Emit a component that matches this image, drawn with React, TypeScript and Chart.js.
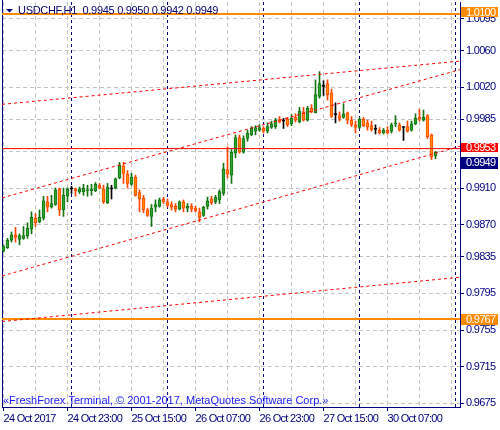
import { useEffect, useRef } from "react";
import { Chart, registerables } from "chart.js";

Chart.register(...registerables);

const TITLE = "USDCHF,H1";

const OPEN = [
  0.9841, 0.9845, 0.9853, 0.9859, 0.9854, 0.9855, 0.9858, 0.9865, 0.9877, 0.9873,
  0.9877, 0.9895, 0.9889, 0.9892, 0.9909, 0.9886, 0.9901, 0.9909, 0.9909, 0.9906,
  0.9906, 0.9907, 0.9907, 0.9907, 0.9913, 0.9909, 0.9894, 0.9909, 0.991, 0.9921,
  0.9934, 0.9925, 0.9914, 0.9922, 0.9905, 0.9899, 0.9886, 0.9879, 0.9889, 0.989,
  0.9898, 0.9895, 0.9892, 0.989, 0.9887, 0.9895, 0.9888, 0.989, 0.9888, 0.9884,
  0.988, 0.989, 0.9898, 0.9895, 0.9897, 0.9904, 0.993, 0.9924, 0.9948, 0.9965,
  0.9949, 0.9964, 0.9968, 0.9972, 0.9973, 0.9975, 0.9972, 0.9976, 0.9977, 0.9984,
  0.9983, 0.9985, 0.998, 0.9987, 0.9982, 0.9993, 0.9984, 0.9997, 0.9992, 1.001,
  1.0021, 1.0024, 1.0014, 0.999, 0.9989, 0.9987, 0.9992, 0.9984, 0.9979, 0.9976,
  0.9985, 0.9981, 0.9978, 0.9974, 0.9973, 0.997, 0.9973, 0.9972, 0.998, 0.9979,
  0.9976, 0.9977, 0.9973, 0.998, 0.9987, 0.9984, 0.9989, 0.9968, 0.9945,
];
const HIGH = [
  0.9848, 0.9855, 0.9862, 0.9867, 0.986, 0.9868, 0.9872, 0.9884, 0.9882, 0.9886,
  0.9901, 0.9901, 0.9902, 0.991, 0.991, 0.991, 0.991, 0.9912, 0.991, 0.9911,
  0.9914, 0.9913, 0.9914, 0.9916, 0.9915, 0.9913, 0.9915, 0.9913, 0.9921, 0.9938,
  0.9938, 0.9929, 0.9926, 0.9924, 0.9908, 0.9902, 0.9888, 0.9892, 0.9897, 0.9899,
  0.99, 0.9898, 0.9895, 0.9893, 0.9896, 0.9897, 0.9893, 0.9893, 0.989, 0.9888,
  0.989, 0.99, 0.9901, 0.9902, 0.9908, 0.9937, 0.9955, 0.9952, 0.9968, 0.9968,
  0.9967, 0.9973, 0.9977, 0.9978, 0.9979, 0.9977, 0.9981, 0.9983, 0.9986, 0.9988,
  0.9986, 0.9987, 0.999, 0.9991, 0.9998, 0.9998, 0.9999, 1.0001, 1.0028, 1.0037,
  1.0027, 1.0028, 1.0018, 1.0003, 0.9993, 1.0002, 0.9993, 0.9988, 0.9983, 0.9987,
  0.9987, 0.9984, 0.9983, 0.9979, 0.9976, 0.9975, 0.9977, 0.9981, 0.9989, 0.9981,
  0.9977, 0.9983, 0.9983, 0.9991, 0.9996, 0.9995, 0.999, 0.9969, 0.995,
];
const LOW = [
  0.984, 0.9844, 0.9851, 0.9851, 0.9848, 0.9854, 0.9855, 0.986, 0.9868, 0.9872,
  0.9875, 0.9884, 0.9888, 0.9891, 0.988, 0.9879, 0.9895, 0.9904, 0.9901, 0.9904,
  0.9902, 0.9901, 0.9902, 0.9906, 0.9909, 0.9893, 0.9893, 0.9898, 0.9909, 0.992,
  0.9915, 0.991, 0.9913, 0.9901, 0.9884, 0.9883, 0.9879, 0.9868, 0.9884, 0.9889,
  0.9893, 0.9889, 0.9886, 0.9884, 0.9886, 0.9884, 0.9884, 0.9884, 0.9884, 0.9873,
  0.9879, 0.9887, 0.9892, 0.9893, 0.9893, 0.9902, 0.9921, 0.9915, 0.9943, 0.9948,
  0.9948, 0.9961, 0.9967, 0.9968, 0.9972, 0.997, 0.997, 0.9975, 0.9975, 0.9981,
  0.9975, 0.9977, 0.9978, 0.9982, 0.9981, 0.9983, 0.9983, 0.9992, 0.9992, 1.0008,
  1.0011, 1.0006, 0.9987, 0.9981, 0.9983, 0.9986, 0.998, 0.9977, 0.997, 0.9975,
  0.9977, 0.9973, 0.9972, 0.9969, 0.9969, 0.9969, 0.9969, 0.997, 0.9977, 0.9972,
  0.9962, 0.9971, 0.9972, 0.9979, 0.9983, 0.9983, 0.9964, 0.9941, 0.9942,
];
const CLOSE = [
  0.9846, 0.9853, 0.9859, 0.9856, 0.9858, 0.9858, 0.9866, 0.9878, 0.9872, 0.9878,
  0.9896, 0.9889, 0.9893, 0.9908, 0.9886, 0.9902, 0.9909, 0.9909, 0.9907, 0.9909,
  0.991, 0.9908, 0.9909, 0.9914, 0.991, 0.9895, 0.9911, 0.9909, 0.992, 0.9935,
  0.9926, 0.9915, 0.9922, 0.9902, 0.9898, 0.9886, 0.988, 0.9888, 0.9892, 0.9897,
  0.9895, 0.9891, 0.9889, 0.9887, 0.9895, 0.9888, 0.989, 0.9887, 0.9885, 0.9878,
  0.9889, 0.9896, 0.9894, 0.99, 0.9906, 0.9931, 0.9925, 0.9949, 0.9965, 0.9949,
  0.9964, 0.997, 0.9975, 0.9976, 0.9976, 0.9972, 0.9977, 0.998, 0.9984, 0.9982,
  0.9983, 0.9979, 0.9986, 0.9984, 0.9994, 0.9984, 0.9997, 0.9993, 1.0012, 1.0024,
  1.0021, 1.0012, 0.9988, 0.999, 0.9986, 0.9991, 0.9984, 0.9979, 0.9976, 0.9985,
  0.9978, 0.9977, 0.9974, 0.9974, 0.997, 0.9973, 0.997, 0.9979, 0.9981, 0.9973,
  0.9976, 0.9972, 0.998, 0.9986, 0.9985, 0.9987, 0.9966, 0.9944, 0.9949,
];

const Y_TICKS = [0.9675, 0.9715, 0.9755, 0.9795, 0.9835, 0.987, 0.991, 0.995, 0.9985, 1.002, 1.006, 1.0095];
const Y_TICKS_UNLABELLED = [0.995];
const X_GRID_BARS = [0, 8, 16, 24, 32, 40, 48, 56, 64, 72, 80, 88, 96, 104, 112];
const X_LABEL_BARS = [0, 16, 32, 48, 64, 80, 96];
const X_LABELS = ["24 Oct 2017", "24 Oct 23:00", "25 Oct 15:00", "26 Oct 07:00", "26 Oct 23:00", "27 Oct 15:00", "30 Oct 07:00"];
const DAY_SEPARATOR_BARS = [17, 41, 65, 89, 113];
const X_RANGE = [-0.375, 114.125];
const Y_RANGE = [0.9671, 1.0113];
const TREND_START = [1.00013, 0.98992, 0.9814, 0.97643];
const TREND_END = [1.00485, 1.00392, 0.99555, 0.98126];
const ORANGE_LEVELS = [1.01, 0.9767];
const ASK_PRICE = 0.9953;
const COPYRIGHT = "«FreshForex Terminal, © 2001-2017, MetaQuotes Software Corp.»";

const FONT = "'Liberation Sans', Arial, sans-serif";
const FONT_SIZE = 11;
const TIGHT = "-0.7px";
const HEADER_TIGHT = "-0.3px";
const NAVY = "#000080";
const GRID = "#c4c4c4";
const BULL_FILL = "#2fa52f";
const BULL_LINE = "#137313";
const BEAR_FILL = "#ff8c00";
const BEAR_LINE = "#ff4500";
const ORANGE = "#ff8c00";

const fmt = (v: number) => v.toFixed(4);

const zeroPad = (s: any) => {
  s.paddingLeft = 0;
  s.paddingRight = 0;
  s.paddingTop = 0;
  s.paddingBottom = 0;
};

export default function App() {
  const ref = useRef<HTMLCanvasElement>(null);

  useEffect(() => {
    const canvas = ref.current!;
    const idx = OPEN.map((_, i) => i);
    const dir = (i: number) => (CLOSE[i] > OPEN[i] ? 1 : CLOSE[i] < OPEN[i] ? -1 : 0);
    const lineCol = (i: number) => (dir(i) > 0 ? BULL_LINE : dir(i) < 0 ? BEAR_LINE : "#000000");
    const fillCol = (i: number) => (dir(i) > 0 ? BULL_FILL : dir(i) < 0 ? BEAR_FILL : "#000000");
    const last = OPEN.length - 1;

    const trendSets = TREND_START.map((s, k) => ({
      type: "line" as const,
      data: [
        { x: X_RANGE[0], y: s },
        { x: X_RANGE[1], y: TREND_END[k] },
      ],
      borderColor: "#ff0000",
      borderWidth: 1,
      borderDash: [3, 3],
      pointRadius: 0,
      order: 0,
    }));
    const levelSets = ORANGE_LEVELS.map((v) => ({
      type: "line" as const,
      data: [
        { x: X_RANGE[0], y: v },
        { x: X_RANGE[1], y: v },
      ],
      borderColor: ORANGE,
      borderWidth: 2,
      pointRadius: 0,
      order: 0,
    }));
    const askSet = {
      type: "line" as const,
      data: [
        { x: X_RANGE[0], y: ASK_PRICE },
        { x: X_RANGE[1], y: ASK_PRICE },
      ],
      borderColor: "#ff0000",
      borderWidth: 1,
      pointRadius: 0,
      order: 0,
    };

    const tighten = (chart: any) => {
      try {
        (chart.ctx as any).letterSpacing = TIGHT;
      } catch (e) {}
    };

    const decor = {
      id: "mt4decor",
      beforeInit: tighten,
      beforeUpdate: tighten,
      beforeLayout: tighten,
      beforeDraw: tighten,
      beforeDatasetsDraw(chart: any) {
        const { ctx, chartArea } = chart;
        const xs = chart.scales.x;
        ctx.save();
        ctx.strokeStyle = NAVY;
        ctx.lineWidth = 1;
        ctx.setLineDash([3, 3]);
        DAY_SEPARATOR_BARS.forEach((b) => {
          const x = Math.floor(xs.getPixelForValue(b)) + 0.5;
          ctx.beginPath();
          ctx.moveTo(x, chartArea.top);
          ctx.lineTo(x, chartArea.bottom);
          ctx.stroke();
        });
        ctx.setLineDash([]);
        ctx.beginPath();
        ctx.moveTo(chartArea.left + 0.5, 0);
        ctx.lineTo(chartArea.left + 0.5, chartArea.bottom);
        ctx.stroke();
        ctx.restore();
      },
      afterDraw(chart: any) {
        const { ctx, chartArea } = chart;
        const ys = chart.scales.y;
        ctx.save();
        ctx.letterSpacing = TIGHT;
        const box = (price: number, bg: string, text: string, dy: number, h: number) => {
          const y = ys.getPixelForValue(price) + dy;
          ctx.fillStyle = bg;
          ctx.fillRect(chartArea.right + 1, Math.round(y - h / 2), 37, h);
          ctx.save();
          ctx.beginPath();
          ctx.rect(chartArea.right + 1, Math.round(y - h / 2), 37, h);
          ctx.clip();
          ctx.fillStyle = "#ffffff";
          ctx.font = `${FONT_SIZE}px ${FONT}`;
          ctx.textBaseline = "middle";
          ctx.textAlign = "left";
          ctx.fillText(text, chartArea.right + 6, y + 0.5);
          ctx.restore();
        };
        box(ORANGE_LEVELS[0], ORANGE, fmt(ORANGE_LEVELS[0]), -1.5, 10);
        box(ORANGE_LEVELS[1], ORANGE, fmt(ORANGE_LEVELS[1]), 0, 11);
        box(ASK_PRICE, "#ff0000", fmt(ASK_PRICE), -1, 9);
        box(CLOSE[last], NAVY, fmt(CLOSE[last]), 10.5, 12);

        // header
        ctx.fillStyle = NAVY;
        ctx.beginPath();
        ctx.moveTo(6, 9);
        ctx.lineTo(13, 9);
        ctx.lineTo(9.5, 12.5);
        ctx.closePath();
        ctx.fill();
        ctx.letterSpacing = HEADER_TIGHT;
        ctx.font = `${FONT_SIZE}px ${FONT}`;
        ctx.textBaseline = "middle";
        ctx.textAlign = "left";
        ctx.fillStyle = "#00006a";
        ctx.fillText(
          `${TITLE}  ${fmt(OPEN[last])} ${fmt(HIGH[last])} ${fmt(LOW[last])} ${fmt(CLOSE[last])}`,
          18,
          10.5
        );
        // copyright
        ctx.letterSpacing = "0px";
        ctx.fillStyle = "#1a1aff";
        ctx.font = `11px ${FONT}`;
        ctx.fillText(COPYRIGHT, 3, 401);
        ctx.restore();
      },
    };

    const chart = new Chart(canvas, {
      type: "bar",
      data: {
        datasets: [
          ...trendSets,
          ...levelSets,
          askSet,
          {
            type: "bar",
            data: idx.map((i) => ({ x: i, y: [OPEN[i], CLOSE[i]] })) as any,
            backgroundColor: idx.map(fillCol),
            borderColor: idx.map(lineCol),
            borderWidth: 1,
            borderSkipped: false,
            barThickness: 3,
            minBarLength: 1,
            grouped: false,
            order: 1,
          } as any,
          {
            type: "bar",
            data: idx.map((i) => ({ x: i, y: [LOW[i], HIGH[i]] })) as any,
            backgroundColor: idx.map(lineCol),
            borderWidth: 0,
            barThickness: 1,
            grouped: false,
            order: 2,
          } as any,
        ],
      },
      options: {
        responsive: false,
        animation: false,
        devicePixelRatio: 1,
        events: [],
        layout: { padding: { left: 2, top: 2, right: 0, bottom: 0 } },
        plugins: { legend: { display: false }, tooltip: { enabled: false } },
        scales: {
          x: {
            type: "linear",
            offset: false,
            min: X_RANGE[0],
            max: X_RANGE[1],
            afterBuildTicks: (s: any) => {
              s.ticks = X_GRID_BARS.map((v) => ({ value: v }));
            },
            afterFit: (s: any) => {
              s.height = 23;
              zeroPad(s);
            },
            grid: {
              offset: false,
              color: GRID,
              tickLength: 4,
              tickColor: (c: any) => (X_LABEL_BARS.includes(c.tick?.value) ? NAVY : "rgba(0,0,0,0)"),
              tickBorderDash: [],
            },
            border: { color: NAVY, width: 1, dash: [4, 3] },
            ticks: {
              autoSkip: false,
              maxRotation: 0,
              minRotation: 0,
              align: "start",
              padding: 1,
              color: NAVY,
              font: { family: FONT, size: FONT_SIZE },
              callback: (v: any) => {
                const k = X_LABEL_BARS.indexOf(Number(v));
                return k >= 0 ? X_LABELS[k] : "";
              },
            },
          },
          y: {
            type: "linear",
            position: "right",
            min: Y_RANGE[0],
            max: Y_RANGE[1],
            afterBuildTicks: (s: any) => {
              s.ticks = Y_TICKS.map((v) => ({ value: v }));
            },
            afterFit: (s: any) => {
              s.width = 40;
              zeroPad(s);
            },
            grid: {
              color: GRID,
              tickLength: 4,
              tickColor: NAVY,
              tickBorderDash: [],
            },
            border: { color: NAVY, width: 1, dash: [4, 3] },
            ticks: {
              padding: 2,
              color: NAVY,
              font: { family: FONT, size: FONT_SIZE },
              callback: (v: any) => (Y_TICKS_UNLABELLED.includes(Number(v)) ? "" : Number(v).toFixed(4)),
            },
          },
        },
      },
      plugins: [decor],
    } as any);

    return () => chart.destroy();
  }, []);

  return (
    <div style={{ position: "absolute", left: 0, top: 0, width: 500, height: 430, background: "#ffffff" }}>
      <canvas ref={ref} width={500} height={430} style={{ display: "block", width: 500, height: 430 }} />
    </div>
  );
}
